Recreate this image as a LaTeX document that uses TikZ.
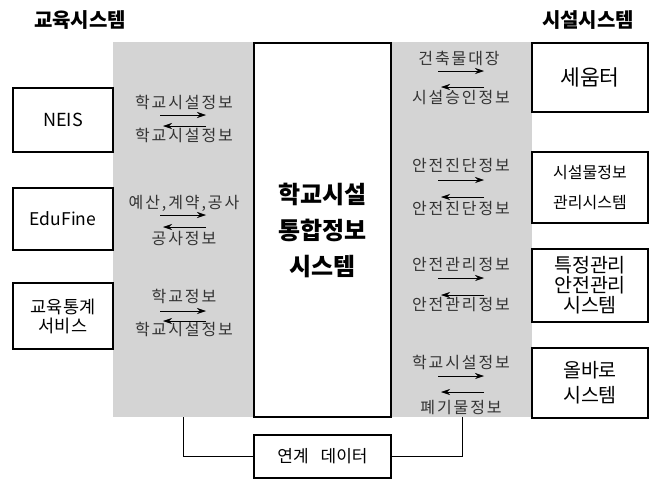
\documentclass[tikz,border=0pt]{standalone}
\usepackage{fontspec}
\setmainfont{Noto Sans CJK KR}
\newfontfamily\lblfont{Noto Sans CJK KR}[LetterSpace=12]
\usetikzlibrary{positioning}
\usetikzlibrary{arrows.meta}

\definecolor{bandgray}{RGB}{212,212,212}

\tikzset{
    sys/.style={draw, line width=1.4pt, fill=white, inner sep=0pt, align=center},
    lbl/.style={font=\lblfont\fontsize{16}{16}\selectfont, text=black!80, inner sep=0pt},
    flow/.style={-{Stealth[length=9pt,width=6pt,inset=3pt]}, line width=0.6pt},
    title/.style={font=\bfseries\fontsize{20}{20}\selectfont}
}

% right arrow on top, left arrow below, around centre x
\newcommand{\flowpair}[3]{%
    \draw[flow] (#1-23,#2) -- (#1+23,#2);
    \draw[flow] (#1+23,#3) -- (#1-20,#3);}

\begin{document}
\begin{tikzpicture}[x=1pt, y=-1pt]
    \useasboundingbox (0,0) rectangle (660,480);

    \path (80,20) node [title] (edu) {교육시스템};
    \path (588,20) node [title] (fac) {시설시스템};

    % gray band and centre box
    \path (322.5,229.5) node [fill=bandgray, minimum width=419pt, minimum height=375pt, inner sep=0pt] (band) {};
    \path (322.5,230) node [sys, minimum width=137pt, minimum height=374pt,
        font=\bfseries\fontsize{24}{36}\selectfont] (core) {학교시설\\통합정보\\시스템};

    % left systems
    \path (63,120) node [sys, minimum width=100pt, minimum height=64pt, font=\fontsize{18}{18}\selectfont] (neis) {NEIS};
    \path (63,219) node [sys, minimum width=100pt, minimum height=62pt, font=\fontsize{17.5}{18}\selectfont] (edufine) {EduFine};
    \path (63,316) node [sys, minimum width=100pt, minimum height=66pt, font=\fontsize{17.5}{19}\selectfont] (stat) {교육통계\\서비스};

    % right systems
    \path (590,77.5) node [sys, minimum width=116pt, minimum height=69pt, font=\fontsize{21.5}{22}\selectfont] (seum) {세움터};
    \path (590,187.5) node [sys, minimum width=116pt, minimum height=71pt, font=\fontsize{16}{30}\selectfont] (fms) {시설물정보\\관리시스템};
    \path (590,285.5) node [sys, minimum width=116pt, minimum height=73pt, font=\fontsize{19.5}{20}\selectfont] (safe) {특정관리\\안전관리\\시스템};
    \path (590,383) node [sys, minimum width=116pt, minimum height=70pt, font=\fontsize{19.5}{25}\selectfont] (allbaro) {올바로\\시스템};

    % left flows
    \path (184,102) node [lbl] (neisOut) {학교시설정보};
    \path (184,135) node [lbl] (neisIn) {학교시설정보};
    \flowpair{183}{115}{126}
    \path (184,203) node [lbl] (eduOut) {예산,계약,공사};
    \path (184,238) node [lbl] (eduIn) {공사정보};
    \flowpair{183}{215}{227}
    \path (184,296) node [lbl] (statOut) {학교정보};
    \path (184,329) node [lbl] (statIn) {학교시설정보};
    \flowpair{183}{311}{321}

    % right flows
    \path (459,58) node [lbl] (seumOut) {건축물대장};
    \path (461,98) node [lbl] (seumIn) {시설승인정보};
    \flowpair{461}{71}{87}
    \path (461,165) node [lbl] (fmsOut) {안전진단정보};
    \path (461,208) node [lbl] (fmsIn) {안전진단정보};
    \flowpair{461}{180}{197}
    \path (461,265) node [lbl] (safeOut) {안전관리정보};
    \path (461,305) node [lbl] (safeIn) {안전관리정보};
    \flowpair{461}{278}{295}
    \path (461,362) node [lbl] (allOut) {학교시설정보};
    \path (461,407) node [lbl] (allIn) {폐기물정보};
    \flowpair{461}{376}{392}

    % linked data
    \path (322.5,456.5) node [sys, minimum width=137pt, minimum height=43pt, font=\fontsize{17}{18}\selectfont] (link) {연계\hspace{0.7em}데이터};
    \coordinate (bandL) at (183,417);
    \coordinate (bandR) at (462,417);
    \draw [line width=0.8pt] (bandL) |- (link.west);
    \draw [line width=0.8pt] (bandR) |- (link.east);
\end{tikzpicture}
\end{document}
